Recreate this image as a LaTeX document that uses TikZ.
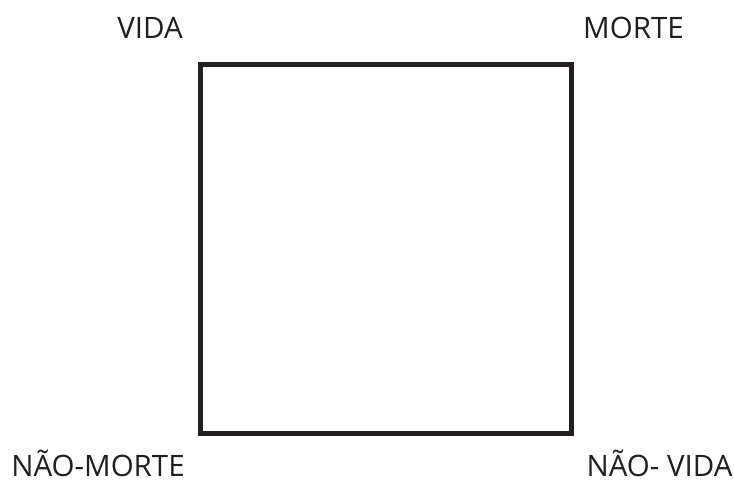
\documentclass[tikz,border=0pt]{standalone}
\usepackage{fontspec}
\setmainfont{Open Sans}
\definecolor{ink}{HTML}{231F20}
\begin{document}
\begin{tikzpicture}[x=1pt,y=1pt,
  lbl/.style={font=\fontsize{29.5}{31}\selectfont, text=ink, inner sep=0pt, anchor=base},
  frame/.style={draw=ink, line width=5pt, minimum width=371pt, minimum height=369pt, inner sep=0pt}]
\useasboundingbox (0,0) rectangle (734,484);
\node[frame] (sq) at (385.5,234.5) {};
\node[lbl] (vida) at (150,445) {VIDA};
\node[lbl] (morte) at (633.5,445) {MORTE};
\node[lbl] (naomorte) at (98,7) {NÃO-MORTE};
\node[lbl] (naovida) at (659.5,7) {NÃO- VIDA};
\end{tikzpicture}
\end{document}
